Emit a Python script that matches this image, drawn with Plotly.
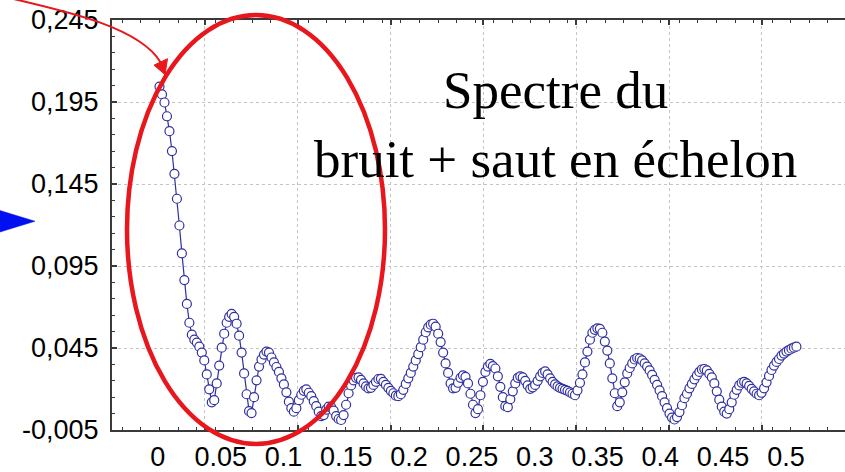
import numpy as np
import plotly.graph_objects as go

# Amplitude spectrum of noise + step, 257 bins from 0 to 0.5 (normalised frequency)
spectre = [
    0.2044, 0.1996, 0.1947, 0.1863, 0.1772, 0.1651, 0.1512, 0.1360, 0.1197, 0.1027,
    0.0864, 0.0719, 0.0604, 0.0531, 0.0501, 0.0483, 0.0458, 0.0422, 0.0374, 0.0289,
    0.0198, 0.0119, 0.0132, 0.0234, 0.0343, 0.0452, 0.0537, 0.0604, 0.0640, 0.0658,
    0.0640, 0.0598, 0.0525, 0.0422, 0.0295, 0.0168, 0.0065, 0.0053, 0.0150, 0.0253,
    0.0337, 0.0380, 0.0410, 0.0428, 0.0422, 0.0392, 0.0362, 0.0334, 0.0304, 0.0265,
    0.0228, 0.0180, 0.0123, 0.0083, 0.0062, 0.0083, 0.0132, 0.0165, 0.0189, 0.0198,
    0.0177, 0.0156, 0.0126, 0.0095, 0.0062, 0.0035, 0.0041, 0.0074, 0.0092, 0.0089,
    0.0068, 0.0035, 0.0017, 0.0011, 0.0041, 0.0104, 0.0174, 0.0222, 0.0253, 0.0268,
    0.0271, 0.0256, 0.0234, 0.0216, 0.0204, 0.0207, 0.0225, 0.0244, 0.0261, 0.0262,
    0.0244, 0.0225, 0.0207, 0.0189, 0.0174, 0.0159, 0.0156, 0.0168, 0.0195, 0.0231,
    0.0265, 0.0298, 0.0337, 0.0374, 0.0413, 0.0455, 0.0501, 0.0546, 0.0576, 0.0592,
    0.0598, 0.0580, 0.0537, 0.0486, 0.0422, 0.0356, 0.0298, 0.0234, 0.0204, 0.0207,
    0.0238, 0.0268, 0.0283, 0.0274, 0.0234, 0.0171, 0.0104, 0.0053, 0.0077, 0.0162,
    0.0244, 0.0304, 0.0337, 0.0353, 0.0340, 0.0325, 0.0277, 0.0213, 0.0150, 0.0095,
    0.0089, 0.0138, 0.0186, 0.0234, 0.0268, 0.0277, 0.0271, 0.0250, 0.0222, 0.0201,
    0.0210, 0.0225, 0.0250, 0.0277, 0.0298, 0.0307, 0.0289, 0.0265, 0.0244, 0.0228,
    0.0216, 0.0207, 0.0201, 0.0195, 0.0189, 0.0180, 0.0171, 0.0162, 0.0192, 0.0238,
    0.0289, 0.0362, 0.0428, 0.0501, 0.0543, 0.0561, 0.0570, 0.0567, 0.0543, 0.0489,
    0.0434, 0.0356, 0.0265, 0.0174, 0.0095, 0.0119, 0.0180, 0.0241, 0.0295, 0.0328,
    0.0356, 0.0380, 0.0389, 0.0386, 0.0374, 0.0356, 0.0337, 0.0313, 0.0286, 0.0256,
    0.0225, 0.0192, 0.0156, 0.0119, 0.0083, 0.0050, 0.0026, 0.0014, 0.0029, 0.0059,
    0.0101, 0.0144, 0.0171, 0.0204, 0.0231, 0.0259, 0.0283, 0.0304, 0.0319, 0.0322,
    0.0313, 0.0292, 0.0271, 0.0234, 0.0186, 0.0135, 0.0092, 0.0062, 0.0050, 0.0077,
    0.0119, 0.0165, 0.0195, 0.0222, 0.0238, 0.0244, 0.0234, 0.0219, 0.0201, 0.0186,
    0.0171, 0.0162, 0.0177, 0.0204, 0.0241, 0.0280, 0.0316, 0.0343, 0.0365, 0.0383,
    0.0404, 0.0416, 0.0428, 0.0437, 0.0446, 0.0452, 0.0458,
]
# frequency bins of the spectrum
freq = np.linspace(0.0, 0.5, len(spectre))

x_labels = [0, 0.05, 0.1, 0.15, 0.2, 0.25, 0.3, 0.35, 0.4, 0.45, 0.5]
x_label_text = ["0", "0.05", "0.1", "0.15", "0.2", "0.25", "0.3", "0.35", "0.4", "0.45", "0.5"]
y_ticks = [-0.005, 0.045, 0.095, 0.145, 0.195, 0.245]
y_tick_text = ["-0,005", "0,045", "0,095", "0,145", "0,195", "0,245"]

title_lines = ["Spectre du", "bruit + saut en échelon"]

W, H = 845, 472
ML, MR, MT, MB = 112, 0, 20, 39
PW, PH = W - ML - MR, H - MT - MB

def px(x):
    return (x - ML) / PW

def py(y):
    return (H - MB - y) / PH

AXIS_COL = "#3a3a3a"
GRID_COL = "#c4c4c4"
LINE_COL = "#3030a0"
RED = "#e8161d"
TICK_FONT = dict(family="Liberation Sans, Arial, sans-serif", size=27, color="black")

# data axis (grid and ticks) and separate label axis
x_range = [-0.03729, 0.53815]
grid_step = 0.07288
lab_range = [-0.03654, 0.54705]

fig = go.Figure()
fig.add_trace(go.Scatter(
    x=freq, y=spectre, mode="lines+markers",
    line=dict(color=LINE_COL, width=1.2),
    marker=dict(symbol="circle", size=9, color="white",
                line=dict(color=LINE_COL, width=1.2)),
    hoverinfo="skip", showlegend=False,
))
# empty trace so the frequency label axis is rendered
fig.add_trace(go.Scatter(x=[], y=[], xaxis="x2", yaxis="y",
                         hoverinfo="skip", showlegend=False))

fig.update_layout(
    width=W, height=H,
    margin=dict(l=ML, r=MR, t=MT, b=MB, pad=0),
    paper_bgcolor="white", plot_bgcolor="white",
    showlegend=False,
    xaxis=dict(
        range=x_range, tickmode="linear", tick0=x_range[0], dtick=grid_step,
        showticklabels=False, ticks="inside", ticklen=5, tickwidth=1.5, tickcolor=AXIS_COL,
        showgrid=True, gridcolor=GRID_COL, griddash="dot", gridwidth=1.2,
        showline=True, linecolor=AXIS_COL, linewidth=2, mirror="allticks",
        zeroline=False,
        minor=dict(dtick=grid_step / 5, ticks="inside", ticklen=3, tickwidth=1.2,
                   tickcolor=AXIS_COL, showgrid=False),
    ),
    xaxis2=dict(
        overlaying="x", anchor="y", side="bottom", range=lab_range,
        tickmode="array", tickvals=x_labels, ticktext=x_label_text,
        ticks="", showgrid=False, showline=False, zeroline=False,
        tickfont=TICK_FONT, ticklabelstandoff=8,
    ),
    yaxis=dict(
        range=[y_ticks[0], y_ticks[-1]], tickmode="array",
        tickvals=y_ticks, ticktext=y_tick_text, tickfont=TICK_FONT,
        ticks="inside", ticklen=5, tickwidth=1.5, tickcolor=AXIS_COL,
        showgrid=True, gridcolor=GRID_COL, griddash="dot", gridwidth=1.2,
        showline=True, linecolor=AXIS_COL, linewidth=2, mirror=False,
        zeroline=False, ticklabelstandoff=6,
        minor=dict(dtick=0.01, tick0=y_ticks[0], ticks="inside", ticklen=3,
                   tickwidth=1.2, tickcolor=AXIS_COL, showgrid=False),
    ),
)

# red ellipse around the low-frequency part
fig.add_shape(type="circle", xref="paper", yref="paper", layer="above",
              x0=px(127), x1=px(385), y0=py(447), y1=py(15),
              line=dict(color=RED, width=4.5))

# curved red pointer towards the first bin
def pt(x, y):
    return f"{px(x):.5f},{py(y):.5f}"

fig.add_shape(type="path", xref="paper", yref="paper", layer="above",
              path=f"M {pt(10, -2)} C {pt(70, 12)} {pt(140, 28)} {pt(160.5, 62.5)}",
              line=dict(color=RED, width=2))
fig.add_shape(type="path", xref="paper", yref="paper", layer="above",
              path=f"M {pt(165, 75)} L {pt(154, 65.5)} L {pt(167.5, 59)} Z",
              fillcolor=RED, line=dict(color=RED, width=1))

# blue arrow head on the left edge
fig.add_shape(type="path", xref="paper", yref="paper", layer="above",
              path=f"M {pt(-3, 211)} L {pt(35, 222.7)} L {pt(-3, 234.5)} Z",
              fillcolor="#0010f0", line=dict(color="#0010f0", width=0.5))

fig.add_annotation(
    text="<br>".join(title_lines), xref="paper", yref="paper",
    x=px(555), y=py(125), xanchor="center", yanchor="middle",
    showarrow=False, align="center",
    font=dict(family="Liberation Serif, Times New Roman, serif", size=53, color="black"),
)

fig.write_html("out.html", config={"displayModeBar": False})
